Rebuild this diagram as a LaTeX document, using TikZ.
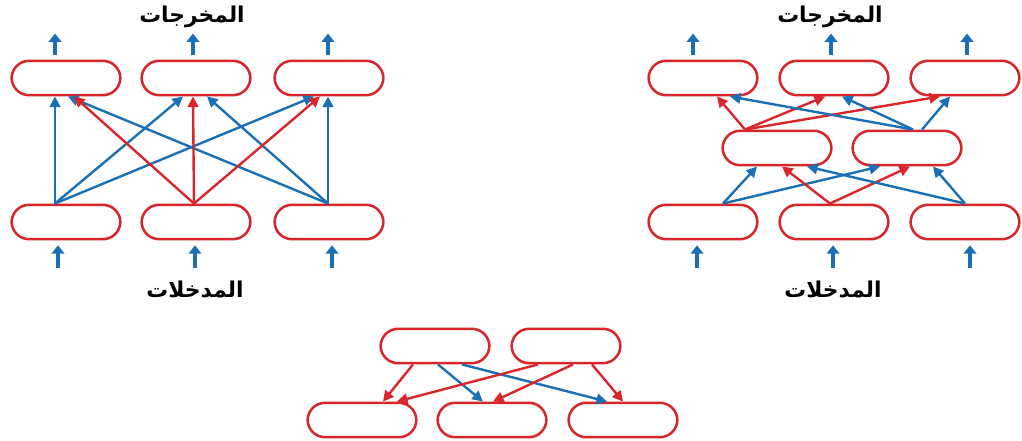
\documentclass[tikz,border=0pt]{standalone}
\usepackage{fontspec}
\usetikzlibrary{arrows.meta}
\newfontfamily\arabicfont[Script=Arabic]{DejaVu Sans}
\TeXXeTstate=1
\definecolor{cellred}{HTML}{D9262B}
\definecolor{linkblue}{HTML}{1A6FB5}

\begin{document}
\begin{tikzpicture}[
  x=0.025cm,
  y=-0.025cm,
  cell/.style={draw=cellred, line width=1.8pt, rounded corners=0.44cm,
    minimum width=2.72cm, minimum height=0.86cm, inner sep=0pt},
  redlink/.style={cellred, line width=1.7pt, -{Triangle[length=7.5pt,width=7.5pt]}},
  bluelink/.style={linkblue, line width=1.7pt, -{Triangle[length=7.5pt,width=7.5pt]}},
  io/.style={linkblue, line width=2.4pt, -{Triangle[length=6pt,width=9pt]}},
  caption/.style={font=\arabicfont\bfseries\fontsize{15.5}{18}\selectfont}
]
  \useasboundingbox (0,0) rectangle (1022,441);

  % ---- left: one layer, every input to every output ---------------------
  \node[cell] (lo1) at (66,78) {};
  \node[cell] (lo2) at (196,78) {};
  \node[cell] (lo3) at (329,78) {};
  \node[cell] (li1) at (66,222) {};
  \node[cell] (li2) at (196,222) {};
  \node[cell] (li3) at (329,222) {};
  \node[caption] (louttext) at (192,17) {\beginR المخرجات\endR};
  \node[caption] (lintext) at (195,290) {\beginR المدخلات\endR};

  \draw[bluelink] ([shift={(-11,0)}]li1.north) -- ([shift={(-11,0)}]lo1.south);
  \draw[bluelink] ([shift={(-11,0)}]li1.north) -- ([shift={(-13,0)}]lo2.south);
  \draw[bluelink] ([shift={(-11,0)}]li1.north) -- ([shift={(-15,0)}]lo3.south);
  \draw[bluelink] ([shift={(-1,0)}]li3.north) -- ([shift={(2,0)}]lo1.south);
  \draw[bluelink] ([shift={(-1,0)}]li3.north) -- ([shift={(11,0)}]lo2.south);
  \draw[bluelink] ([shift={(-1,0)}]li3.north) -- ([shift={(-1,0)}]lo3.south);
  \draw[redlink] ([shift={(-2,0)}]li2.north) -- ([shift={(8,0)}]lo1.south);
  \draw[redlink] ([shift={(-2,0)}]li2.north) -- ([shift={(-3,0)}]lo2.south);
  \draw[redlink] ([shift={(-2,0)}]li2.north) -- ([shift={(-9,0)}]lo3.south);

  \foreach \n/\dx in {1/-11, 2/-3, 3/-1} {
    \coordinate (lout\n) at ([shift={(\dx,-26)}]lo\n.north);
    \draw[io, shorten <=0.12cm] (lout\n |- lo\n.north) -- (lout\n);
  }
  \foreach \n/\dx in {1/-8, 2/-1, 3/3} {
    \coordinate (lin\n) at ([shift={(\dx,28)}]li\n.south);
    \draw[io, shorten >=0.12cm] (lin\n) -- (lin\n |- li\n.south);
  }

  % ---- right: a hidden layer between inputs and outputs -----------------
  \node[cell] (ro1) at (703,78) {};
  \node[cell] (ro2) at (834,78) {};
  \node[cell] (ro3) at (965,78) {};
  \node[cell] (rh1) at (777,148) {};
  \node[cell] (rh2) at (907,148) {};
  \node[cell] (ri1) at (703,222) {};
  \node[cell] (ri2) at (834,222) {};
  \node[cell] (ri3) at (965,222) {};
  \node[caption] (routtext) at (830,17) {\beginR المخرجات\endR};
  \node[caption] (rintext) at (833,290) {\beginR المدخلات\endR};

  \draw[bluelink] ([shift={(20,0)}]ri1.north) -- ([shift={(-20,0)}]rh1.south);
  \draw[bluelink] ([shift={(20,0)}]ri1.north) -- ([shift={(-27,0)}]rh2.south);
  \draw[redlink] ([shift={(-4,0)}]ri2.north) -- ([shift={(5,0)}]rh1.south);
  \draw[redlink] ([shift={(-4,0)}]ri2.north) -- ([shift={(3,0)}]rh2.south);
  \draw[bluelink] (ri3.north) -- ([shift={(30,0)}]rh1.south);
  \draw[bluelink] (ri3.north) -- ([shift={(26,0)}]rh2.south);

  \draw[redlink] ([shift={(-32,0)}]rh1.north) -- ([shift={(14,0)}]ro1.south);
  \draw[redlink] ([shift={(-32,0)}]rh1.north) -- ([shift={(-9,0)}]ro2.south);
  \draw[redlink] ([shift={(-32,0)}]rh1.north) -- ([shift={(-25,0)}]ro3.south);
  \draw[bluelink] ([shift={(6,0)}]rh2.north) -- ([shift={(27,0)}]ro1.south);
  \draw[bluelink] ([shift={(6,0)}]rh2.north) -- ([shift={(8,0)}]ro2.south);
  \draw[bluelink] ([shift={(15,0)}]rh2.north) -- ([shift={(-15,0)}]ro3.south);

  \foreach \n/\dx in {1/-10, 2/-3, 3/2} {
    \coordinate (rout\n) at ([shift={(\dx,-26)}]ro\n.north);
    \draw[io, shorten <=0.12cm] (rout\n |- ro\n.north) -- (rout\n);
  }
  \foreach \n/\dx in {1/-6, 2/-1, 3/5} {
    \coordinate (rin\n) at ([shift={(\dx,28)}]ri\n.south);
    \draw[io, shorten >=0.12cm] (rin\n) -- (rin\n |- ri\n.south);
  }

  % ---- bottom: two cells feeding three ----------------------------------
  \node[cell] (bt1) at (435,346) {};
  \node[cell] (bt2) at (566,346) {};
  \node[cell] (bb1) at (362,420) {};
  \node[cell] (bb2) at (492,420) {};
  \node[cell] (bb3) at (623,420) {};

  \draw[redlink] ([shift={(-22,0)}]bt1.south) -- ([shift={(21,0)}]bb1.north);
  \draw[bluelink] ([shift={(3,0)}]bt1.south) -- ([shift={(-9,0)}]bb2.north);
  \draw[bluelink] ([shift={(27,0)}]bt1.south) -- ([shift={(-16,0)}]bb3.north);
  \draw[redlink] ([shift={(-28,0)}]bt2.south) -- ([shift={(35,0)}]bb1.north);
  \draw[redlink] ([shift={(7,0)}]bt2.south) -- ([shift={(1,0)}]bb2.north);
  \draw[redlink] ([shift={(26,0)}]bt2.south) -- (bb3.north);
\end{tikzpicture}
\end{document}
